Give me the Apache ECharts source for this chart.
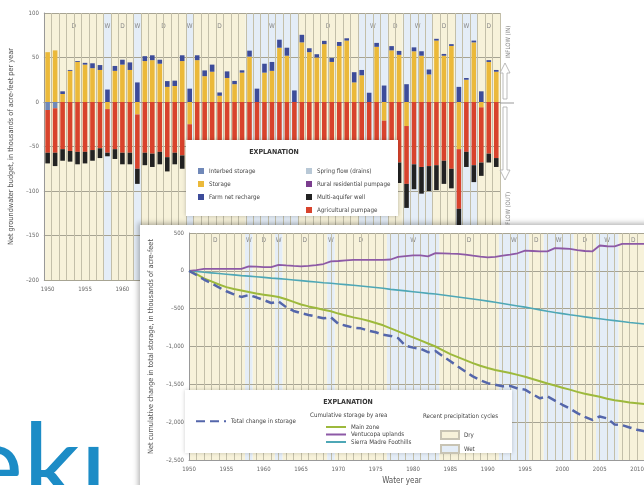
<!DOCTYPE html>
<html><head><meta charset="utf-8">
<script src="https://cdn.jsdelivr.net/npm/echarts@6/dist/echarts.min.js"></script>
<style>
html,body{margin:0;padding:0;width:644px;height:485px;overflow:hidden;background:#fff;}
#topChart{position:absolute;left:0;top:0;width:644px;height:485px;}
#botChart{position:absolute;left:140px;top:225px;width:560px;height:270px;background:#fff;box-shadow:-2px -2px 5px rgba(0,0,0,0.28);}
</style></head><body>
<div id="topChart"></div><div id="botChart"></div>
<script>
// ---------- DATA ----------
const years = ['1950','1951','1952','1953','1954','1955','1956','1957','1958','1959',
'1960','1961','1962','1963','1964','1965','1966','1967','1968','1969',
'1970','1971','1972','1973','1974','1975','1976','1977','1978','1979',
'1980','1981','1982','1983','1984','1985','1986','1987','1988','1989',
'1990','1991','1992','1993','1994','1995','1996','1997','1998','1999',
'2000','2001','2002','2003','2004','2005','2006','2007','2008','2009','2010'];

const interbedStorage = [-9,-7,0,0,0,0,0,0,0,0, 0,0,0,0,0,0,0,0,0,0, 0,0,0,0,0,0,0,0,0,0,
 0,0,0,0,0,0,0,0,0,0, 0,0,0,0,0,0,0,0,0,0, 0,0,0,0,0,0,0,0,0,0,0];
const storage = [56,58,9,35,45,42,38,36,-8,35, 42,36,-14,46,47,43,17,18,46,-25,
 47,29,34,7,27,20,33,51,0,33, 35,61,52,0,67,56,50,65,45,63,
 69,22,30,0,62,-21,58,53,-27,57, 52,31,69,52,63,-53,25,67,-6,45,34];
const farmRecharge = [0,0,3,1,1,2,5.5,5.5,14,5.5, 5.5,8.5,22,5.5,5.5,4.5,6.5,6,6.5,15,
 5.5,6.5,8,3.7,7.4,3.7,2.6,6.7,15,10, 10,9,9,13,8.5,4.4,3.7,3.7,4.4,4.4,
 2.6,11.5,6,10.4,4.4,18.5,4.8,4.4,20,4.4, 5,5.5,2,2,2,17,2,2,12,2,2];
const springFlow = [];
const ruralPumpage = [];
const agPumpage = [-48,-50,-53,-55,-56,-56,-54,-52,-49,-53, -57,-57,-61,-57,-58,-56,-62,-57,-60,-45,
 -60,-62,-64,-58,-62,-60,-63,-66,-55,-62, -60,-68,-66,-52,-70,-68,-66,-70,-66,-72,
 -74,-66,-64,-55,-70,-50,-72,-68,-65,-70, -73,-72,-71,-66,-75,-67,-56,-71,-62,-58,-63];
const multiAquifer = [-12,-15,-13,-12,-14,-13,-12,-11,-4,-11, -13,-13,-17,-14,-15,-14,-16,-13,-15,-18,
 -14,-15,-16,-14,-15,-14,-16,-18,-12,-16, -16,-20,-19,-12,-20,-19,-18,-21,-19,-22,
 -23,-20,-19,-14,-22,-18,-24,-23,-27,-28, -30,-28,-28,-26,-22,-28,-17,-19,-15,-10,-10];

// precipitation cycles (D = dry, W = wet)
const cycleType  = ['D','W','D','W','D','W','D','W','D','W','D','W','D','W','D'];
const cycleStart = [1950,1958,1959,1962,1963,1969,1970,1977,1984,1992,1996,1998,2002,2005,2008];
const cycleEnd   = [1957,1958,1961,1962,1968,1969,1976,1983,1991,1995,1997,2001,2004,2007,2011];

const cumYears = [1950,1951,1952,1953,1954,1955,1956,1957,1958,1959,
1960,1961,1962,1963,1964,1965,1966,1967,1968,1969,
1970,1971,1972,1973,1974,1975,1976,1977,1978,1979,
1980,1981,1982,1983,1984,1985,1986,1987,1988,1989,
1990,1991,1992,1993,1994,1995,1996,1997,1998,1999,
2000,2001,2002,2003,2004,2005,2006,2007,2008,2009,2010,2011];
const totalChange = [0,-55,-115,-165,-220,-270,-310,-345,-320,-350,
 -385,-425,-405,-480,-530,-560,-583,-605,-627,-615,
 -700,-725,-750,-760,-790,-812,-845,-860,-890,-990,
 -1015,-1030,-1075,-1060,-1130,-1195,-1265,-1330,-1395,-1445,
 -1485,-1505,-1525,-1520,-1555,-1570,-1630,-1685,-1660,-1715,
 -1770,-1820,-1880,-1930,-1970,-1925,-1950,-2030,-2040,-2070,-2100,-2120];
const mainZone = [0,-45,-100,-140,-180,-215,-240,-260,-280,-300,
 -315,-330,-345,-375,-410,-445,-470,-490,-515,-535,
 -565,-590,-615,-635,-660,-690,-720,-760,-800,-840,
 -880,-920,-960,-1000,-1050,-1100,-1140,-1180,-1220,-1255,
 -1285,-1310,-1330,-1350,-1375,-1400,-1430,-1460,-1490,-1515,
 -1545,-1570,-1600,-1625,-1645,-1665,-1690,-1710,-1725,-1740,-1750,-1760];
const ventucopa = [0,10,25,25,25,25,25,25,58,55,
 50,50,80,72,65,60,65,75,90,125,
 130,138,145,145,145,145,145,150,185,195,
 203,203,192,233,232,228,225,215,200,188,
 178,185,200,215,232,268,262,256,258,300,
 295,290,275,262,256,335,325,322,356,355,356,356];
const sierraMadre = [0,-9,-18,-27,-36,-45,-54,-63,-70,-78,
 -87,-96,-103,-112,-121,-130,-139,-148,-157,-164,
 -173,-182,-191,-200,-210,-220,-230,-245,-255,-265,
 -276,-287,-298,-307,-320,-333,-346,-359,-372,-386,
 -400,-416,-432,-448,-464,-480,-498,-516,-534,-550,
 -565,-580,-594,-608,-622,-634,-646,-658,-670,-682,-692,-702];

// ---------- STYLE ----------
const FONT = '"Liberation Sans Narrow","DejaVu Sans Condensed","Liberation Sans",sans-serif';
const DRY = '#f7f2da', WET = '#e4edf7';
const VLINE = '#c3bfa9', HLINE = '#a7a493';
const C = {interbed:'#7088b8', storage:'#ebb93a', farm:'#3d4c9a', spring:'#b8c8d6',
  rural:'#7b3d8e', multi:'#222222', ag:'#d8432c'};
const dashFmt = v => v < 0 ? '\u2013' + Math.abs(v).toLocaleString('en-US') : v.toLocaleString('en-US');

function cyclesOf(t){
  const out=[];
  cycleType.forEach((c,i)=>{ if(c===t) out.push([cycleStart[i], cycleEnd[i]]); });
  return out;
}

// ---------- TOP CHART ----------
const chartTop = echarts.init(document.getElementById('topChart'), null, {renderer:'canvas'});
function topStripe(t){
  return {
    type:'custom', name: t==='D'?'Dry':'Wet', z:0, silent:true, clip:true,
    data: cyclesOf(t).map(p=>[Math.min(p[0]-1950, years.length-1), Math.min(p[1]-1950, years.length-1)]),
    renderItem:(params, api)=>{
      const bw = api.size([1,0])[0];
      const a = api.coord([api.value(0), 100]), b = api.coord([api.value(1), -200]);
      const x0 = a[0]-bw/2, x1 = b[0]+bw/2;
      const ly = api.coord([api.value(0), 85])[1];
      return {type:'group', children:[
        {type:'rect', shape:{x:x0,y:a[1],width:x1-x0,height:b[1]-a[1]}, style:{fill: t==='D'?DRY:WET}},
        {type:'text', style:{text:t, x:(x0+x1)/2, y:ly, align:'center', verticalAlign:'middle',
          fontSize:6.5, fill:'#888', fontFamily:FONT}}
      ]};
    }
  };
}
const barBase = {type:'bar', stack:'budget', barWidth:4.6, z:2, emphasis:{disabled:true}};
const legendText = {fontSize:6.2, color:'#444', fontFamily:FONT};
chartTop.setOption({
  animation:false,
  textStyle:{fontFamily:FONT},
  grid:{left:39, top:13, width:461, height:267, show:false},
  xAxis:{type:'category', data:years, boundaryGap:true, z:1,
    axisLine:{show:true, lineStyle:{color:'#999'}}, axisTick:{show:false},
    axisLabel:{interval:4, fontSize:6, color:'#666', margin:6},
    splitLine:{show:true, interval:0, lineStyle:{color:VLINE, width:1}}},
  yAxis:{type:'value', min:-200, max:100, interval:50, z:1,
    name:'Net groundwater budget, in thousands of acre-feet per year',
    nameLocation:'middle', nameGap:27, nameTextStyle:{fontSize:7.3, color:'#555'},
    axisLine:{show:true, lineStyle:{color:'#999'}}, axisTick:{show:false},
    axisLabel:{fontSize:6, color:'#666', margin:5, formatter:dashFmt},
    splitLine:{lineStyle:{color:HLINE, width:1}}},
  legend:[
    {data:['Interbed storage','Storage','Farm net recharge'], orient:'vertical', left:193, top:163,
     icon:'rect', itemWidth:6, itemHeight:6, itemGap:7, selectedMode:false, textStyle:legendText, z:20},
    {data:['Spring flow (drains)','Rural residential pumpage','Multi-aquifer well','Agricultural pumpage'],
     orient:'vertical', left:301, top:163, icon:'rect', itemWidth:6, itemHeight:6, itemGap:7,
     selectedMode:false, textStyle:legendText, z:20}
  ],
  graphic:[
    {type:'rect', z:15, shape:{x:186,y:140,width:212,height:76},
     style:{fill:'#fff', shadowBlur:4, shadowColor:'rgba(0,0,0,0.25)'}},
    {type:'text', z:16, style:{text:'EXPLANATION', x:274, y:152, align:'center', verticalAlign:'middle',
     fontSize:7, fontWeight:'bold', fill:'#333', fontFamily:FONT}},
    {type:'line', z:3, shape:{x1:500,y1:103,x2:514,y2:103}, style:{stroke:'#999', lineWidth:1}},
    {type:'text', z:5, rotation:Math.PI/2, x:508, y:42, style:{text:'INFLOW (IN)', align:'center',
     verticalAlign:'middle', fontSize:6, fill:'#888', fontFamily:FONT}},
    {type:'text', z:5, rotation:Math.PI/2, x:508, y:214, style:{text:'OUTFLOW (OUT)', align:'center',
     verticalAlign:'middle', fontSize:6, fill:'#888', fontFamily:FONT}},
    {type:'polygon', z:5, shape:{points:[[503,99],[503,73],[500,73],[505,63],[510,73],[507,73],[507,99]]},
     style:{fill:'#fff', stroke:'#aaa', lineWidth:0.8}},
    {type:'polygon', z:5, shape:{points:[[503,107],[503,170],[500,170],[505,180],[510,170],[507,170],[507,107]]},
     style:{fill:'#fff', stroke:'#aaa', lineWidth:0.8}},
    {type:'text', z:5, x:-36, y:468, style:{text:'ek\u0131', fontSize:112, fill:'#1c8cc6',
     fontFamily:'Lato, "Open Sans", sans-serif', verticalAlign:'middle'}}
  ],
  series:[
    topStripe('D'), topStripe('W'),
    {...barBase, name:'Interbed storage', data:interbedStorage, itemStyle:{color:C.interbed}},
    {...barBase, name:'Storage', data:storage, itemStyle:{color:C.storage}},
    {...barBase, name:'Farm net recharge', data:farmRecharge, itemStyle:{color:C.farm}},
    {...barBase, name:'Spring flow (drains)', data:springFlow, itemStyle:{color:C.spring}},
    {...barBase, name:'Rural residential pumpage', data:ruralPumpage, itemStyle:{color:C.rural}},
    {...barBase, name:'Agricultural pumpage', data:agPumpage, itemStyle:{color:C.ag}},
    {...barBase, name:'Multi-aquifer well', data:multiAquifer, itemStyle:{color:C.multi}}
  ]
});

// ---------- BOTTOM CHART ----------
const chartBot = echarts.init(document.getElementById('botChart'), null, {renderer:'canvas'});
function botStripe(t){
  return {
    type:'custom', name: t==='D'?'Dry':'Wet', z:0, silent:true, clip:true,
    itemStyle:{color: t==='D'?DRY:WET, borderColor:'#c8c4b4', borderWidth:0.8},
    data: cyclesOf(t),
    renderItem:(params, api)=>{
      const a = api.coord([api.value(0)-0.5, 500]), b = api.coord([api.value(1)+0.5, -2500]);
      const ly = api.coord([(api.value(0)+api.value(1))/2, 400]);
      return {type:'group', children:[
        {type:'rect', shape:{x:a[0],y:a[1],width:b[0]-a[0],height:b[1]-a[1]}, style:{fill: t==='D'?DRY:WET}},
        {type:'text', style:{text:t, x:ly[0], y:ly[1], align:'center', verticalAlign:'middle',
          fontSize:6.5, fill:'#888', fontFamily:FONT}}
      ]};
    }
  };
}
const pairs = arr => cumYears.map((y,i)=>[y, arr[i]]);
const lineBase = {type:'line', symbol:'none', showSymbol:false, emphasis:{disabled:true}};
chartBot.setOption({
  animation:false,
  textStyle:{fontFamily:FONT},
  grid:{left:43, top:8, width:469, height:227, show:false},
  xAxis:{type:'value', min:1950, max:2012, interval:5, z:1,
    axisLine:{show:true, onZero:false, lineStyle:{color:'#999'}}, axisTick:{show:false},
    axisLabel:{fontSize:6, color:'#666', margin:6, formatter:v=>String(v), showMaxLabel:false},
    splitLine:{show:true, lineStyle:{color:VLINE}},
    minorTick:{show:false, splitNumber:5},
    minorSplitLine:{show:true, lineStyle:{color:VLINE}}},
  yAxis:{type:'value', min:-2500, max:500, interval:500, z:1,
    name:'Net cumulative change in total storage, in thousands of acre-feet',
    nameLocation:'middle', nameGap:33, nameTextStyle:{fontSize:7.3, color:'#555'},
    axisLine:{show:true, lineStyle:{color:'#999'}}, axisTick:{show:false},
    axisLabel:{fontSize:6, color:'#666', margin:5, formatter:dashFmt},
    splitLine:{lineStyle:{color:HLINE}}},
  legend:[
    {data:['Total change in storage'], left:50, top:188, itemWidth:30, itemHeight:8,
     itemStyle:{opacity:0}, selectedMode:false, textStyle:legendText, z:20},
    {data:['Main zone','Ventucopa uplands','Sierra Madre Foothills'], orient:'vertical', left:180, top:194,
     itemWidth:20, itemHeight:6, itemGap:1.5, itemStyle:{opacity:0}, selectedMode:false, textStyle:legendText, z:20},
    {data:['Dry','Wet'], orient:'vertical', left:295, top:200, icon:'rect', itemWidth:18, itemHeight:8,
     itemGap:4, selectedMode:false, textStyle:legendText, z:20}
  ],
  graphic:[
    {type:'rect', z:15, shape:{x:45,y:165,width:327,height:63},
     style:{fill:'#fff', shadowBlur:4, shadowColor:'rgba(0,0,0,0.2)'}},
    {type:'text', z:16, style:{text:'EXPLANATION', x:208, y:177, align:'center', verticalAlign:'middle',
     fontSize:7, fontWeight:'bold', fill:'#333', fontFamily:FONT}},
    {type:'text', z:16, style:{text:'Cumulative storage by area', x:170, y:190, verticalAlign:'middle',
     fontSize:6.2, fill:'#444', fontFamily:FONT}},
    {type:'text', z:16, style:{text:'Recent precipitation cycles', x:283, y:191, verticalAlign:'middle',
     fontSize:6.2, fill:'#444', fontFamily:FONT}},
    {type:'text', z:16, style:{text:'Water year', x:262, y:256, align:'center', verticalAlign:'middle',
     fontSize:8, fill:'#555', fontFamily:FONT}}
  ],
  series:[
    botStripe('D'), botStripe('W'),
    {...lineBase, name:'Sierra Madre Foothills', z:3, data:pairs(sierraMadre), lineStyle:{color:'#4ea7b6', width:1.6}, itemStyle:{color:'#4ea7b6'}},
    {...lineBase, name:'Ventucopa uplands', z:3, data:pairs(ventucopa), lineStyle:{color:'#8d59a6', width:1.8}, itemStyle:{color:'#8d59a6'}},
    {...lineBase, name:'Main zone', z:3, data:pairs(mainZone), lineStyle:{color:'#9db93c', width:2}, itemStyle:{color:'#9db93c'}},
    {...lineBase, name:'Total change in storage', z:4, data:pairs(totalChange), lineStyle:{color:'#5466ab', width:2.5, type:[9,5]}, itemStyle:{color:'#5466ab'}}
  ]
});
</script>
</body></html>
